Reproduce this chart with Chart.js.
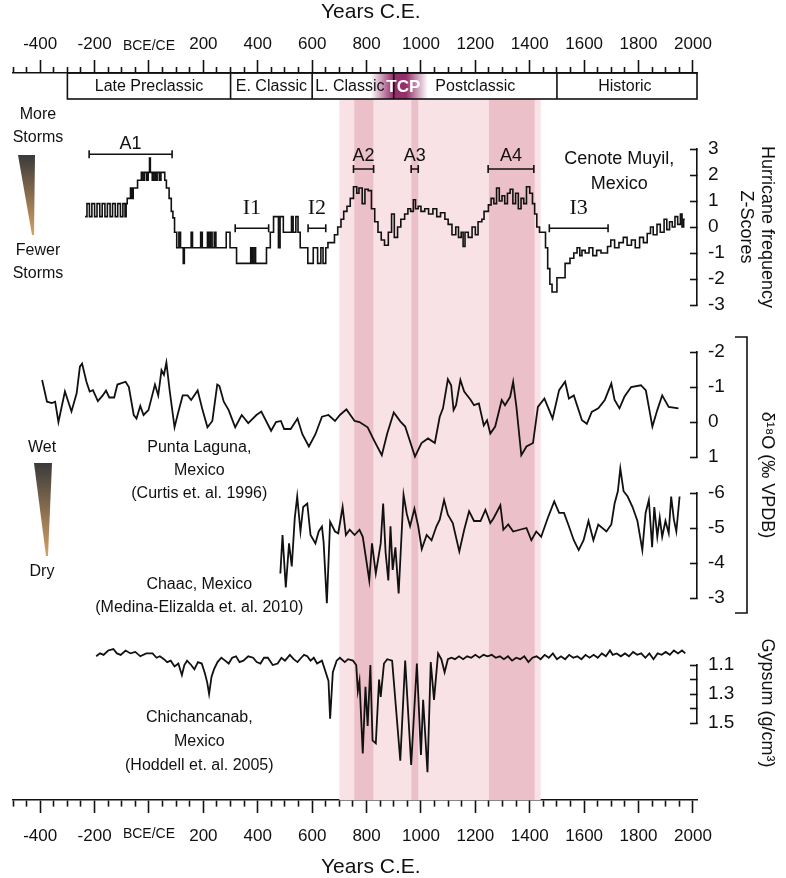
<!DOCTYPE html>
<html>
<head>
<meta charset="utf-8">
<script src="https://cdn.jsdelivr.net/npm/chart.js@4.4.1/dist/chart.umd.min.js"></script>
<style>
  html, body { margin: 0; padding: 0; background: #fff; }
  canvas { display: block; }
</style>
</head>
<body>
<canvas id="chart" width="786" height="878"></canvas>
<script>
const FONT = "'Liberation Sans', Arial, sans-serif";
const INK = '#111';

// ---- axis labels ----
const yearLabels = [-400, -200, 0, 200, 400, 600, 800, 1000, 1200, 1400, 1600, 1800, 2000];
const minorStep = 50;

// ---- cultural periods (top row) ----
const periodNames = ['Late Preclassic', 'E. Classic', 'L. Classic', 'Postclassic', 'Historic'];
const periodStart = [-300, 300, 600, 900, 1500];
const periodEnd = [300, 600, 900, 1500, 2015];

// ---- shaded intervals ----
const wideBand = [700, 1440];
const darkBands = [[755, 825], [965, 990], [1250, 1418]];

// ---- active / inactive hurricane intervals ----
const intervalNames = ['A1', 'I1', 'I2', 'A2', 'A3', 'A4', 'I3'];
const intervalFrom = [-220, 317, 585, 752, 964, 1247, 1472];
const intervalTo = [85, 440, 650, 826, 990, 1415, 1688];

// ---- Cenote Muyil hurricane frequency (z-scores) ----
const hurricaneYears = [-235, -228, -219, -210, -200, -191, -181, -172, -162, -153, -143, -134, -124, -115, -105, -96, -88, -84, -80, -68, -63, -58, -42, -34, -28, -22, -16, -8, -3, 2, 5, 12, 18, 24, 30, 38, 44, 58, 64, 74, 82, 88, 94, 102, 110, 116, 126, 130, 155, 160, 190, 196, 215, 220, 226, 232, 240, 246, 284, 298, 322, 374, 380, 386, 392, 432, 446, 458, 476, 482, 494, 524, 530, 540, 548, 556, 584, 604, 620, 632, 640, 650, 658, 682, 694, 706, 716, 728, 740, 752, 764, 772, 784, 794, 806, 818, 830, 842, 854, 866, 880, 892, 902, 914, 926, 940, 952, 962, 972, 980, 990, 1000, 1014, 1028, 1044, 1058, 1072, 1088, 1100, 1114, 1128, 1138, 1148, 1155, 1162, 1174, 1188, 1200, 1210, 1224, 1232, 1248, 1258, 1268, 1278, 1288, 1298, 1308, 1318, 1328, 1338, 1348, 1358, 1368, 1378, 1388, 1400, 1410, 1418, 1426, 1436, 1458, 1466, 1474, 1482, 1500, 1530, 1548, 1562, 1574, 1584, 1592, 1604, 1618, 1632, 1646, 1662, 1686, 1698, 1712, 1728, 1744, 1758, 1774, 1788, 1804, 1818, 1832, 1844, 1854, 1868, 1880, 1894, 1904, 1914, 1924, 1934, 1944, 1954, 1960, 1966, 1970];
const hurricaneZ = [0.4, 0.9, 0.4, 0.9, 0.4, 0.9, 0.4, 0.9, 0.4, 0.9, 0.4, 0.9, 0.4, 0.9, 0.4, 0.9, 0.4, 0.9, 1.1, 1.5, 1.1, 1.5, 1.8, 1.8, 2.1, 1.8, 2.1, 1.8, 2.1, 2.65, 2.1, 1.8, 2.1, 1.8, 2.1, 1.8, 2.1, 1.8, 1.5, 1.1, 0.6, 0.35, -0.2, -0.8, -0.2, -0.8, -1.4, -0.8, -0.2, -0.8, -0.2, -0.8, -0.2, -0.8, -0.2, -0.8, -0.2, -0.8, -0.2, -0.8, -1.4, -0.8, -1.4, -0.8, -1.4, -0.8, -0.2, 0.4, -0.8, 0.4, -0.2, 0.4, -0.2, 0.4, -0.2, -0.8, -1.4, -0.8, -1.4, -0.8, -1.4, -0.8, -0.6, -0.3, 0.0, 0.3, 0.6, 0.8, 1.1, 1.55, 1.3, 1.5, 0.9, 1.45, 1.4, 0.7, 0.2, -0.2, -0.5, -0.7, -0.2, 0.5, -0.4, 0.0, 0.3, 0.5, 0.7, 0.6, 1.05, 0.7, 0.8, 0.6, 0.7, 0.5, 0.7, 0.4, 0.55, 0.3, 0.1, -0.3, 0.0, -0.4, -0.2, -0.75, -0.2, -0.4, 0.0, -0.3, 0.2, 0.3, 0.6, 0.85, 1.1, 0.9, 1.5, 1.0, 1.2, 0.9, 1.3, 1.45, 0.9, 1.3, 0.7, 1.1, 0.9, 1.55, 1.3, 0.9, 0.5, 0.0, -0.2, -0.8, -1.6, -2.2, -2.5, -1.95, -1.4, -1.2, -1.0, -0.8, -1.1, -0.9, -1.0, -0.8, -1.1, -0.9, -1.0, -0.75, -0.5, -0.8, -0.6, -0.4, -0.7, -0.5, -0.8, -0.4, -0.6, -0.25, 0.0, -0.3, 0.1, -0.2, 0.3, -0.1, 0.2, 0.0, 0.4, 0.1, 0.5, 0.0, 0.3, 0.3];

// ---- Punta Laguna d18O ----
const lagunaYears = [-393, -375, -357, -345, -333, -309, -285, -266, -254, -246, -230, -218, -206, -188, -170, -158, -146, -128, -116, -86, -74, -56, -46, -32, -20, -2, 22, 34, 46, 55, 64, 76, 94, 106, 124, 142, 155, 179, 197, 215, 233, 251, 259, 275, 293, 317, 341, 365, 395, 413, 449, 467, 485, 497, 521, 546, 564, 588, 612, 636, 660, 684, 702, 726, 756, 774, 804, 828, 856, 876, 900, 924, 942, 978, 1002, 1026, 1051, 1069, 1081, 1099, 1111, 1120, 1129, 1145, 1159, 1183, 1195, 1213, 1231, 1243, 1255, 1273, 1297, 1309, 1328, 1339, 1351, 1369, 1388, 1412, 1430, 1454, 1484, 1508, 1530, 1544, 1562, 1592, 1610, 1628, 1652, 1676, 1700, 1712, 1730, 1748, 1773, 1809, 1827, 1851, 1869, 1887, 1911, 1947];
const lagunaD18O = [-1.2, -0.58, -0.54, -0.58, 0.0, -0.87, -0.3, -0.82, -1.58, -1.67, -1.15, -0.87, -0.91, -0.6, -0.76, -0.9, -0.7, -0.7, -1.07, -1.15, -1.0, -0.2, -0.1, -0.46, -0.2, -0.34, -1.07, -0.76, -1.48, -1.35, -1.7, -0.9, 0.15, -0.23, -0.76, -0.76, -0.63, -0.9, -0.34, 0.15, -0.03, -1.07, -1.03, -0.58, -0.34, 0.15, -0.2, 0.03, -0.2, -0.3, 0.25, 0.0, -0.03, 0.2, 0.2, -0.1, 0.35, 0.7, 0.35, -0.15, -0.2, -0.03, -0.2, -0.36, -0.03, 0.0, 0.15, 0.53, 0.95, 0.33, -0.27, -0.02, 0.13, 0.99, 0.6, 0.47, 0.6, -0.15, -0.39, -1.22, -1.05, -0.34, -0.48, -1.2, -0.87, -0.63, -0.48, -0.53, 0.1, -0.05, 0.33, 0.13, -0.63, -0.48, -0.72, -1.15, -0.43, 0.95, 0.7, 0.6, -0.43, -0.67, -0.1, -0.91, -1.15, -0.67, -0.76, -0.05, 0.05, -0.29, -0.39, -0.63, -1.1, -0.63, -0.39, -0.72, -1.0, -1.05, -0.9, 0.13, -0.34, -0.76, -0.43, -0.39];

// ---- Chaac d18O ----
const chaacYears = [483, 491, 503, 515, 525, 536, 545, 557, 567, 582, 594, 612, 624, 636, 642, 654, 666, 684, 696, 712, 724, 738, 756, 774, 786, 798, 810, 820, 834, 852, 861, 870, 880, 888, 896, 906, 918, 936, 948, 960, 976, 990, 1003, 1021, 1039, 1057, 1069, 1085, 1099, 1117, 1141, 1159, 1177, 1195, 1219, 1237, 1255, 1267, 1292, 1303, 1321, 1339, 1363, 1388, 1406, 1424, 1442, 1466, 1490, 1508, 1526, 1544, 1562, 1580, 1598, 1616, 1634, 1652, 1682, 1700, 1712, 1724, 1733, 1745, 1760, 1778, 1796, 1814, 1826, 1838, 1850, 1858, 1869, 1878, 1887, 1899, 1911, 1920, 1930, 1939, 1951];
const chaacD18O = [-3.7, -4.8, -3.3, -4.56, -3.9, -5.28, -5.9, -4.9, -5.6, -5.7, -4.8, -4.56, -4.9, -5.04, -4.6, -2.85, -5.18, -4.9, -4.85, -5.6, -4.8, -4.95, -4.8, -4.95, -4.75, -4.13, -3.5, -4.56, -3.7, -4.56, -5.7, -4.3, -3.5, -5.05, -3.8, -4.45, -3.13, -5.95, -5.4, -5.05, -5.55, -5.05, -4.4, -4.8, -4.65, -5.05, -5.24, -5.8, -5.38, -5.14, -4.33, -4.95, -5.48, -5.2, -5.2, -5.52, -5.14, -5.28, -5.65, -4.95, -5.1, -4.9, -4.95, -5.0, -4.65, -4.9, -4.75, -5.28, -5.76, -5.43, -5.43, -5.05, -4.65, -4.37, -4.65, -5.2, -4.65, -5.1, -4.9, -5.1, -5.7, -6.05, -6.7, -6.05, -5.9, -5.6, -5.2, -4.37, -5.43, -5.8, -4.45, -5.6, -4.75, -5.3, -4.75, -5.2, -4.85, -5.9, -5.24, -4.9, -5.9];

// ---- Chichancanab gypsum density (g/cm3) ----
const gypsumYears = [-194, -180, -167, -150, -131, -118, -104, -86, -68, -50, -32, -10, 13, 28, 40, 55, 67, 80, 94, 108, 121, 130, 140, 155, 167, 180, 194, 206, 214, 221, 230, 239, 252, 266, 280, 293, 306, 320, 333, 347, 365, 383, 396, 410, 423, 437, 455, 473, 487, 500, 518, 532, 546, 560, 570, 582, 594, 606, 618, 636, 648, 660, 666, 676, 690, 702, 720, 732, 750, 762, 768, 774, 786, 796, 804, 814, 822, 834, 846, 852, 864, 876, 894, 924, 942, 964, 985, 1000, 1008, 1024, 1036, 1048, 1063, 1075, 1087, 1099, 1112, 1125, 1140, 1155, 1170, 1185, 1200, 1215, 1230, 1245, 1260, 1275, 1290, 1305, 1320, 1335, 1350, 1365, 1380, 1395, 1410, 1425, 1440, 1455, 1470, 1485, 1500, 1515, 1530, 1545, 1560, 1575, 1590, 1605, 1620, 1635, 1650, 1665, 1680, 1695, 1705, 1720, 1735, 1750, 1765, 1780, 1795, 1810, 1825, 1840, 1855, 1870, 1885, 1900, 1915, 1930, 1945, 1960, 1972];
const gypsumDensity = [1.04, 1.02, 1.03, 1.0, 0.99, 1.02, 1.03, 1.0, 1.02, 1.01, 1.04, 1.02, 1.02, 1.05, 1.04, 1.06, 1.08, 1.07, 1.11, 1.09, 1.17, 1.10, 1.07, 1.10, 1.13, 1.08, 1.09, 1.16, 1.22, 1.30, 1.18, 1.13, 1.08, 1.05, 1.07, 1.09, 1.05, 1.04, 1.08, 1.07, 1.04, 1.05, 1.08, 1.09, 1.05, 1.05, 1.10, 1.09, 1.05, 1.07, 1.03, 1.06, 1.08, 1.05, 1.03, 1.04, 1.07, 1.05, 1.09, 1.07, 1.14, 1.21, 1.47, 1.15, 1.07, 1.05, 1.08, 1.06, 1.07, 1.10, 1.28, 1.21, 1.71, 1.25, 1.52, 1.10, 1.62, 1.64, 1.20, 1.32, 1.09, 1.06, 1.07, 1.76, 1.07, 1.79, 1.09, 1.72, 1.34, 1.84, 1.08, 1.34, 1.02, 1.06, 1.15, 1.06, 1.05, 1.06, 1.04, 1.06, 1.04, 1.05, 1.03, 1.05, 1.03, 1.04, 1.03, 1.05, 1.04, 1.06, 1.04, 1.07, 1.05, 1.06, 1.04, 1.08, 1.05, 1.04, 1.06, 1.03, 1.05, 1.02, 1.06, 1.04, 1.06, 1.03, 1.05, 1.04, 1.06, 1.03, 1.05, 1.03, 1.05, 1.02, 1.04, 1.0, 1.03, 1.02, 1.04, 1.02, 1.04, 1.01, 1.03, 1.02, 1.05, 1.02, 1.06, 1.02, 1.03, 1.01, 1.03, 1.0, 1.02, 1.0, 1.02];

const pairs = (xs, ys) => xs.map((x, i) => ({x: x, y: ys[i]}));

// layout constants (pixels / axis units), kept apart from the data
const RIGHT_W = 89;
const PERIOD_ROW = 26;
const barLevel = {A1: 2.8, A2: 2.23, A3: 2.23, A4: 2.23, I1: -0.05, I2: -0.05, I3: -0.05};

Chart.defaults.font.family = FONT;
Chart.defaults.color = INK;

function xAxis(position) {
  const top = position === 'top';
  return {
    type: 'linear', position: position, min: -500, max: 2015,
    afterFit: s => { s.height = top ? 73 : 78; },
    afterBuildTicks: s => {
      const t = [];
      for (let v = -500; v <= 2000; v += minorStep) t.push({value: v});
      s.ticks = t;
    },
    grid: {
      drawOnChartArea: false, tickLength: 13, tickColor: INK, tickWidth: 1.6,
      tickBorderDash: c => (c.tick && c.tick.value % 200 === 0) ? [] : (top ? [0, 7, 6, 100] : [6, 100])
    },
    border: {color: INK, width: 1.6},
    ticks: {
      autoSkip: false, maxRotation: 0, minRotation: 0, color: INK,
      padding: top ? 5 : 13,
      font: c => (c.tick && c.tick.value === 0) ? {size: 14} : {size: 17},
      callback: v => v === 0 ? 'BCE/CE' : (yearLabels.includes(v) ? String(v) : '')
    },
    title: {display: true, text: '\u2002\u2002\u2002Years C.E.', color: INK,
      font: {size: 21, lineHeight: 1}, padding: top ? {top: 2, bottom: 0} : {top: 0, bottom: 0}}
  };
}

function spacer(weight, h, title) {
  return {
    type: 'linear', position: 'right', stack: 'right', weight: weight, stackWeight: h,
    afterFit: s => { s.width = RIGHT_W; },
    ticks: {display: false}, grid: {display: false}, border: {display: false},
    title: title ? {display: true, text: title, color: INK, font: {size: 18}, padding: {top: 8}} : {display: false}
  };
}

function valueAxis(weight, h, min, max, step, reverse, title, callback) {
  const ax = {
    type: 'linear', position: 'right', stack: 'right', weight: weight, stackWeight: h,
    min: min, max: max, reverse: reverse,
    afterFit: s => { s.width = RIGHT_W; },
    grid: {drawOnChartArea: false, tickLength: -7, tickColor: INK, tickWidth: 1.6},
    border: {color: INK, width: 1.6},
    ticks: {stepSize: step, autoSkip: false, color: INK, padding: 18, font: {size: 19}},
    title: title ? {display: true, text: title, color: INK, font: {size: 18}, padding: {top: 8}} : {display: false}
  };
  if (callback) ax.ticks.callback = callback;
  return ax;
}

const overlay = {
  id: 'overlay',
  beforeDatasetsDraw(chart) {
    const {ctx, chartArea: area, scales: {x}} = chart;
    const top = area.top + PERIOD_ROW;
    const band = (a, b) => ctx.fillRect(x.getPixelForValue(a), top, x.getPixelForValue(b) - x.getPixelForValue(a), area.bottom - top);
    ctx.save();
    ctx.fillStyle = '#f8e2e6';
    band(wideBand[0], wideBand[1]);
    ctx.fillStyle = '#ecc0c8';
    darkBands.forEach(d => band(d[0], d[1]));
    ctx.restore();
  },
  afterDatasetsDraw(chart) {
    const {ctx, chartArea: area, scales} = chart;
    const x = scales.x;
    const X = v => x.getPixelForValue(v);
    const hur = scales.yHur;
    ctx.save();
    ctx.strokeStyle = INK;
    ctx.fillStyle = INK;
    ctx.lineWidth = 1.6;

    // period row
    const rowTop = area.top, rowBot = area.top + PERIOD_ROW, rowMid = rowTop + PERIOD_ROW / 2 + 1;
    const g = ctx.createLinearGradient(X(815), 0, X(1025), 0);
    g.addColorStop(0, 'rgba(142,36,98,0)');
    g.addColorStop(0.4, 'rgba(142,36,98,0.95)');
    g.addColorStop(0.62, 'rgba(142,36,98,0.95)');
    g.addColorStop(1, 'rgba(142,36,98,0)');
    ctx.fillStyle = g;
    ctx.fillRect(X(815), rowTop, X(1025) - X(815), PERIOD_ROW);
    ctx.strokeRect(X(periodStart[0]), rowTop, area.right - X(periodStart[0]), PERIOD_ROW);
    periodStart.slice(1).forEach(p => {
      ctx.beginPath(); ctx.moveTo(X(p), rowTop); ctx.lineTo(X(p), rowBot); ctx.stroke();
    });
    ctx.fillStyle = INK;
    ctx.font = '16px ' + FONT;
    ctx.textBaseline = 'middle';
    periodNames.forEach((n, i) => {
      if (n === 'L. Classic') {
        ctx.textAlign = 'left';
        ctx.fillText(n, X(periodStart[i]) + 3, rowMid);
      } else {
        ctx.textAlign = 'center';
        ctx.fillText(n, X((periodStart[i] + Math.min(periodEnd[i], 2000)) / 2), rowMid);
      }
    });
    ctx.fillStyle = '#fff';
    ctx.textAlign = 'center';
    ctx.font = 'bold 17px ' + FONT;
    ctx.fillText('TCP', X(935), rowMid);

    // interval bars
    ctx.fillStyle = INK;
    intervalNames.forEach((n, i) => {
      const y = hur.getPixelForValue(barLevel[n]);
      const a = X(intervalFrom[i]), b = X(intervalTo[i]);
      ctx.beginPath();
      ctx.moveTo(a, y); ctx.lineTo(b, y);
      ctx.moveTo(a, y - 4); ctx.lineTo(a, y + 4);
      ctx.moveTo(b, y - 4); ctx.lineTo(b, y + 4);
      ctx.stroke();
      const isI = n[0] === 'I';
      ctx.font = isI ? "22px 'Liberation Serif', serif" : '18px ' + FONT;
      ctx.textBaseline = 'alphabetic';
      ctx.fillText(n, (a + b) / 2, y - (isI ? 14 : (n === 'A1' ? 5 : 8)));
    });

    // site labels
    ctx.textBaseline = 'middle';
    const lines = (txts, yr, y0, gap) => txts.forEach((t, i) => ctx.fillText(t, X(yr), y0 + i * gap));
    ctx.font = '18px ' + FONT;
    lines(['Cenote Muyil,', 'Mexico'], 1729, hur.getPixelForValue(2.6), 25);
    ctx.font = '16px ' + FONT;
    lines(['Punta Laguna,', 'Mexico', '(Curtis et. al. 1996)'], 185, scales.yLag.getPixelForValue(0.74), 23);
    lines(['Chaac, Mexico', '(Medina-Elizalda et. al. 2010)'], 185, scales.yChaac.getPixelForValue(-3.37), 23);
    lines(['Chichancanab,', 'Mexico', '(Hoddell et. al. 2005)'], 185, scales.yGyp.getPixelForValue(1.465), 24);

    // left-hand wedges
    const wedge = (xl, xr, xt, y0, y1) => {
      const w = ctx.createLinearGradient(0, y0, 0, y1);
      w.addColorStop(0, '#3a3a3a');
      w.addColorStop(1, '#d6a064');
      ctx.fillStyle = w;
      ctx.beginPath(); ctx.moveTo(xl, y0); ctx.lineTo(xr, y0); ctx.lineTo(xt + 1, y1); ctx.lineTo(xt - 1, y1); ctx.closePath(); ctx.fill();
      ctx.fillStyle = INK;
    };
    ctx.font = '16px ' + FONT;
    lines(['More', 'Storms'], -408, 115, 23);
    wedge(18, 35, 33, 155, 235);
    lines(['Fewer', 'Storms'], -408, 251, 23);
    ctx.fillText('Wet', 42, 448);
    wedge(34, 52, 47, 463, 556);
    ctx.fillText('Dry', 42, 572);

    // d18O bracket
    const bt = scales.yLag.top - 15, bb = scales.yChaac.bottom + 15, bx = 747;
    ctx.beginPath();
    ctx.moveTo(bx - 12, bt); ctx.lineTo(bx, bt); ctx.lineTo(bx, bb); ctx.lineTo(bx - 12, bb);
    ctx.stroke();
    ctx.restore();
  }
};

const lineStyle = {borderColor: INK, borderWidth: 1.8, pointRadius: 0, tension: 0, clip: false, fill: false};

new Chart(document.getElementById('chart'), {
  type: 'line',
  data: {
    datasets: [
      Object.assign({label: 'Cenote Muyil', data: pairs(hurricaneYears, hurricaneZ), yAxisID: 'yHur', stepped: true}, lineStyle, {borderWidth: 1.6}),
      Object.assign({label: 'Punta Laguna', data: pairs(lagunaYears, lagunaD18O), yAxisID: 'yLag'}, lineStyle),
      Object.assign({label: 'Chaac', data: pairs(chaacYears, chaacD18O), yAxisID: 'yChaac'}, lineStyle),
      Object.assign({label: 'Chichancanab', data: pairs(gypsumYears, gypsumDensity), yAxisID: 'yGyp'}, lineStyle)
    ]
  },
  options: {
    responsive: false,
    animation: false,
    events: [],
    layout: {padding: {left: 1, right: 0, top: 0, bottom: 0}},
    plugins: {legend: {display: false}, tooltip: {enabled: false}},
    scales: {
      x: xAxis('bottom'),
      x2: xAxis('top'),
      sp1: spacer(1, 76),
      yHur: valueAxis(2, 156, -3, 3, 1, false, ['Hurricane frequency', 'Z-Scores']),
      sp2: spacer(3, 47),
      yLag: valueAxis(4, 105, -2, 1, 1, true),
      sp3: spacer(5, 36, 'δ¹⁸O (‰ VPDB)'),
      yChaac: valueAxis(6, 105, -6, -3, 1, true),
      sp4: spacer(7, 67),
      yGyp: valueAxis(8, 58, 1.1, 1.5, 0.1, true, '\u2002\u2002Gypsum (g/cm³)', v => {
        const t = Math.round(v * 10);
        return t % 2 === 1 ? (t / 10).toFixed(1) : '';
      }),
      sp5: spacer(9, 77)
    }
  },
  plugins: [overlay]
});
</script>
</body>
</html>
